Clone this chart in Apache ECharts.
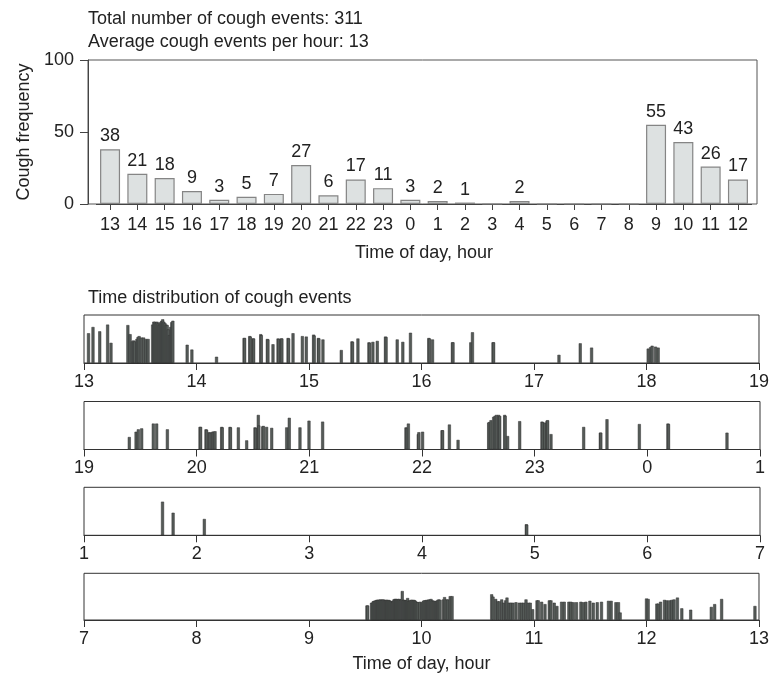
<!DOCTYPE html>
<html>
<head>
<meta charset="utf-8">
<script src="https://cdn.jsdelivr.net/npm/echarts@6/dist/echarts.min.js"></script>
<style>html,body{margin:0;padding:0;background:#fff}#c{width:772px;height:674px}</style>
</head>
<body>
<div id="c"></div>
<script>
// ---- data ----
var totalEvents = 311;
var avgPerHour = 13;
var hourLabels = ['13','14','15','16','17','18','19','20','21','22','23','0','1','2','3','4','5','6','7','8','9','10','11','12'];
var hourCounts = [38,21,18,9,3,5,7,27,6,17,11,3,2,1,0,2,0,0,0,0,55,43,26,17];

// strip ranges (start hour of each 6-hour strip, clock time)
var stripStarts = [13, 19, 1, 7];
var stripTickLabels = [
  ['13','14','15','16','17','18','19'],
  ['19','20','21','22','23','0','1'],
  ['1','2','3','4','5','6','7'],
  ['7','8','9','10','11','12','13']
];

// events: [clock time in hours, relative mark height]
var events1 = [
 [13.04,0.62],[13.08,0.75],[13.14,0.66],[13.21,0.80],[13.24,0.42],
 [13.39,0.79],[13.41,0.60],[13.43,0.45],[13.44,0.47],[13.45,0.45],[13.47,0.50],[13.48,0.54],[13.49,0.56],[13.51,0.53],[13.53,0.53],[13.55,0.50],[13.57,0.50],
 [13.61,0.80],[13.62,0.86],[13.63,0.86],[13.64,0.84],[13.65,0.86],[13.66,0.83],[13.67,0.80],[13.68,0.85],[13.69,0.88],[13.70,0.91],[13.71,0.86],[13.72,0.83],[13.73,0.80],[13.74,0.79],[13.75,0.70],[13.76,0.58],[13.77,0.75],[13.78,0.85],[13.79,0.88],
 [13.917,0.38],[13.959,0.28],
 [14.178,0.13],[14.423,0.52],[14.428,0.52],[14.473,0.56],[14.478,0.55],[14.503,0.51],[14.508,0.51],[14.571,0.60],[14.576,0.58],[14.630,0.50],[14.635,0.49],[14.680,0.39],[14.725,0.51],[14.730,0.50],[14.754,0.51],[14.759,0.51],[14.814,0.52],[14.819,0.51],[14.858,0.62],[14.941,0.56],[14.976,0.55],
 [15.041,0.59],[15.046,0.57],[15.083,0.52],[15.088,0.51],[15.124,0.49],[15.287,0.27],[15.382,0.45],[15.387,0.44],[15.435,0.51],[15.533,0.43],[15.538,0.42],[15.568,0.44],[15.607,0.46],[15.680,0.55],[15.685,0.54],[15.784,0.49],[15.834,0.44],[15.902,0.63],
 [16.065,0.52],[16.070,0.51],[16.098,0.49],[16.275,0.43],[16.280,0.43],[16.438,0.43],[16.453,0.64],[16.636,0.43],[16.641,0.43],
 [17.222,0.17],[17.411,0.41],[17.512,0.32],
 [18.015,0.30],[18.036,0.33],[18.050,0.36],[18.080,0.34],[18.104,0.32]
];
var events2 = [
 [19.402,0.26],[19.462,0.37],[19.482,0.42],[19.512,0.44],[19.615,0.54],[19.645,0.54],[19.740,0.42],
 [20.030,0.47],[20.035,0.47],[20.083,0.42],[20.088,0.41],[20.113,0.36],[20.118,0.35],[20.142,0.37],[20.147,0.37],[20.163,0.38],[20.222,0.47],[20.227,0.46],[20.296,0.47],[20.300,0.46],[20.370,0.46],[20.444,0.19],[20.518,0.46],[20.523,0.45],[20.547,0.72],[20.552,0.50],[20.587,0.48],[20.592,0.49],[20.621,0.47],[20.666,0.45],[20.799,0.46],[20.822,0.66],[20.917,0.46],[20.997,0.60],
 [21.118,0.58],[21.858,0.46],[21.863,0.45],[21.879,0.54],[21.967,0.32],[21.972,0.36],
 [22.005,0.37],[22.178,0.40],[22.183,0.40],[22.243,0.52],[22.320,0.20],[22.592,0.56],[22.597,0.57],[22.612,0.61],[22.636,0.68],[22.648,0.70],[22.660,0.72],[22.680,0.72],[22.690,0.70],[22.734,0.72],[22.738,0.70],[22.760,0.28],[22.867,0.59],
 [23.065,0.58],[23.070,0.57],[23.089,0.56],[23.110,0.60],[23.115,0.61],[23.145,0.32],[23.435,0.47],[23.583,0.35],[23.587,0.35],[23.642,0.63],[23.929,0.53],
 [0.183,0.54],[0.188,0.53],[0.707,0.35]
];
var events3 = [
 [1.697,0.70],[1.791,0.47],[2.068,0.34],[4.926,0.23],[4.930,0.22]
];
var events4 = [
 [9.515,0.31],[9.522,0.31],[9.556,0.37],[9.563,0.37],[9.571,0.40],[9.579,0.41],[9.587,0.41],[9.595,0.42],[9.603,0.43],[9.611,0.43],[9.619,0.43],[9.627,0.43],[9.635,0.44],[9.643,0.43],[9.651,0.43],[9.659,0.44],[9.667,0.43],[9.675,0.42],[9.683,0.43],[9.691,0.43],[9.699,0.42],[9.707,0.43],[9.715,0.42],[9.723,0.41],[9.731,0.40],[9.739,0.38],[9.747,0.41],[9.755,0.44],[9.763,0.45],[9.771,0.45],[9.779,0.44],[9.787,0.45],[9.795,0.44],[9.803,0.45],[9.811,0.43],[9.820,0.44],[9.829,0.62],[9.837,0.43],[9.845,0.43],[9.853,0.42],[9.861,0.42],[9.869,0.43],[9.877,0.47],[9.885,0.41],[9.893,0.41],[9.901,0.42],[9.909,0.43],[9.917,0.43],[9.925,0.42],[9.933,0.43],[9.941,0.42],[9.950,0.40],[9.960,0.38],[9.970,0.38],[9.985,0.39],
 [10.006,0.38],[10.016,0.41],[10.026,0.42],[10.036,0.42],[10.046,0.43],[10.056,0.42],[10.066,0.44],[10.076,0.43],[10.085,0.45],[10.095,0.42],[10.105,0.41],[10.115,0.41],[10.125,0.40],[10.135,0.41],[10.145,0.43],[10.155,0.44],[10.165,0.43],[10.195,0.44],[10.205,0.49],[10.220,0.44],[10.235,0.44],[10.255,0.51],[10.272,0.51],
 [10.624,0.55],[10.636,0.50],[10.660,0.45],[10.677,0.40],[10.692,0.40],[10.713,0.44],[10.730,0.37],[10.748,0.42],[10.760,0.48],[10.780,0.37],[10.795,0.37],[10.813,0.37],[10.840,0.38],[10.870,0.37],[10.890,0.37],[10.908,0.37],[10.929,0.44],[10.950,0.37],[10.967,0.37],[10.988,0.23],
 [11.027,0.42],[11.038,0.42],[11.068,0.39],[11.098,0.34],[11.136,0.42],[11.151,0.42],[11.180,0.37],[11.204,0.30],[11.245,0.39],[11.269,0.39],[11.310,0.39],[11.328,0.39],[11.350,0.38],[11.378,0.38],[11.417,0.39],[11.440,0.38],[11.461,0.39],[11.497,0.41],[11.527,0.37],[11.562,0.38],[11.600,0.39],[11.662,0.41],[11.686,0.41],[11.728,0.38],[11.751,0.38],[11.766,0.16],
 [12.000,0.46],[12.015,0.45],[12.092,0.35],[12.105,0.35],[12.125,0.39],[12.160,0.43],[12.180,0.42],[12.205,0.42],[12.225,0.43],[12.245,0.44],[12.275,0.48],[12.314,0.25],[12.393,0.22],[12.576,0.28],[12.606,0.34],[12.668,0.45],[12.964,0.30]
];
var stripEvents = [events1, events2, events3, events4];

// ---- chart ----
var FONT = 'Liberation Sans, Arial, sans-serif';
var TXT = '#222';
var chart = echarts.init(document.getElementById('c'), null, {renderer: 'canvas'});

var grids = [
  {left: 88, width: 669, top: 60, height: 144, show: true, borderColor: '#555', borderWidth: 1},
  {left: 96.4, width: 655.2, top: 60, height: 144}
];
var xAxes = [
  {gridIndex: 0, type: 'value', min: 0, max: 1, show: false},
  {gridIndex: 1, type: 'category', data: hourLabels,
   axisLine: {show: true, lineStyle: {color: '#444', width: 1}},
   axisTick: {show: true, alignWithLabel: true, length: 6, lineStyle: {color: '#444'}},
   axisLabel: {fontSize: 18, color: TXT, fontFamily: FONT, margin: 12, interval: 0},
   name: 'Time of day, hour', nameLocation: 'middle', nameGap: 40,
   nameTextStyle: {fontSize: 18, color: TXT, fontFamily: FONT}}
];
var yAxes = [
  {gridIndex: 0, type: 'value', min: 0, max: 100, interval: 50,
   axisLine: {show: true, lineStyle: {color: '#444'}},
   axisTick: {show: true, length: 8, lineStyle: {color: '#444'}},
   axisLabel: {fontSize: 18, color: TXT, fontFamily: FONT, margin: 14},
   splitLine: {show: false},
   name: 'Cough frequency', nameLocation: 'middle', nameGap: 55, nameRotate: 90,
   nameTextStyle: {fontSize: 18, color: TXT, fontFamily: FONT}},
  {gridIndex: 1, type: 'value', min: 0, max: 100, show: false}
];
var series = [{
  type: 'bar', xAxisIndex: 1, yAxisIndex: 1, data: hourCounts, barWidth: 20,
  itemStyle: {color: '#dde1e1', borderColor: '#858585', borderWidth: 1.2},
  label: {show: true, position: 'top', distance: 4, fontSize: 18, color: TXT, fontFamily: FONT,
          formatter: function (p) { return p.value > 0 ? p.value : ''; }},
  silent: true
}];

var stripTops = [315, 401.5, 487.3, 573.3];
for (var i = 0; i < 4; i++) {
  var gi = grids.length;
  grids.push({left: 84, width: 676, top: stripTops[i], height: 48, show: true, borderColor: '#333', borderWidth: 1});
  var start = stripStarts[i];
  (function (labels, start) {
    var xa = {gridIndex: gi, type: 'value', min: start, max: start + 6, interval: 1,
      axisLine: {show: true, onZero: false, lineStyle: {color: '#333'}},
      axisTick: {show: true, length: 7, lineStyle: {color: '#333'}},
      axisLabel: {fontSize: 18, color: TXT, fontFamily: FONT, margin: 10,
        formatter: function (v) { return labels[Math.round(v - start)]; }},
      splitLine: {show: false}};
    if (i === 3) {
      xa.name = 'Time of day, hour'; xa.nameLocation = 'middle'; xa.nameGap = 35;
      xa.nameTextStyle = {fontSize: 18, color: TXT, fontFamily: FONT};
    }
    xAxes.push(xa);
  })(stripTickLabels[i], start);
  yAxes.push({gridIndex: gi, type: 'value', min: 0, max: 1, show: false});
  var data = stripEvents[i].map(function (e) {
    var t = e[0];
    if (t < start) t += 24;
    return [t, e[1]];
  });
  series.push({type: 'bar', xAxisIndex: gi, yAxisIndex: gi, data: data, barWidth: 3,
    itemStyle: {color: '#555b58', borderColor: '#2e2e2e', borderWidth: 0.5}, silent: true});
}

chart.setOption({
  animation: false,
  backgroundColor: '#fff',
  textStyle: {fontFamily: FONT},
  title: [
    {text: 'Total number of cough events: ' + totalEvents + '\nAverage cough events per hour: ' + avgPerHour,
     left: 88, top: 8, padding: 0,
     textStyle: {fontSize: 18, fontWeight: 'normal', color: TXT, fontFamily: FONT, lineHeight: 23}},
    {text: 'Time distribution of cough events', left: 88, top: 289, padding: 0,
     textStyle: {fontSize: 18, fontWeight: 'normal', color: TXT, fontFamily: FONT}}
  ],
  grid: grids, xAxis: xAxes, yAxis: yAxes, series: series
});
</script>
</body>
</html>
